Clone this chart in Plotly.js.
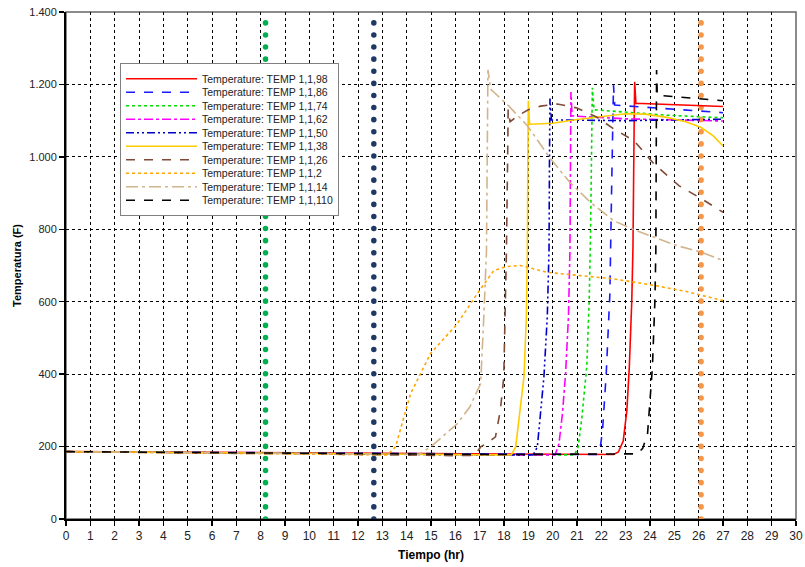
<!DOCTYPE html>
<html>
<head>
<meta charset="utf-8">
<script src="https://cdn.plot.ly/plotly-3.0.1.min.js"></script>
<style>html,body{margin:0;padding:0;background:#fff;}#chart{width:805px;height:567px;}</style>
</head>
<body>
<div id="chart"></div>
<script>
// ---- data ----
const names = ["Temperature: TEMP 1,1,98","Temperature: TEMP 1,1,86","Temperature: TEMP 1,1,74","Temperature: TEMP 1,1,62","Temperature: TEMP 1,1,50","Temperature: TEMP 1,1,38","Temperature: TEMP 1,1,26","Temperature: TEMP 1,1,2","Temperature: TEMP 1,1,14","Temperature: TEMP 1,1,110"];

const t98 = [0,6,12,18,22.5,22.7,22.9,23.05,23.15,23.25,23.3,23.35,23.37,23.42,25,27];
const v98 = [186,184,180,178,178,185,215,300,420,600,750,1100,1207,1148,1144,1139];

const t86 = [0,6,12,18,21.8,21.95,22.05,22.2,22.35,22.42,22.47,22.5,22.55,25,27];
const v86 = [186,184,180,178,178,195,245,400,620,900,1150,1198,1143,1132,1122];

const t74 = [0,6,12,18,20.9,21.05,21.2,21.4,21.5,21.56,21.6,21.63,21.7,23.3,24.7,27];
const v74 = [186,184,180,177,177,200,280,420,600,800,1100,1191,1130,1122,1115,1108];

const t62 = [0,6,12,18,20.1,20.26,20.4,20.53,20.65,20.71,20.73,20.75,20.8,23,27];
const v62 = [186,184,180,177,177,208,290,401,560,741,1000,1179,1113,1105,1099];

const t50 = [0,6,12,17,19.2,19.37,19.5,19.64,19.78,19.85,19.87,19.89,19.95,23,27];
const v50 = [186,184,180,177,177,199,290,392,560,741,1000,1161,1102,1100,1104];

const t38 = [0,6,12,17,18.3,18.48,18.65,18.82,18.92,18.96,18.98,19.0,19.05,20,21,22,23,23.8,24.7,25.5,26.1,26.6,27];
const v38 = [186,184,180,177,177,199,290,392,560,741,1000,1155,1090,1093,1103,1112,1119,1118,1109,1096,1081,1058,1030];

const t26 = [0,6,12,16,16.8,17.04,17.35,17.65,17.85,17.99,18.05,18.1,18.15,18.17,18.25,18.6,19,19.5,20.19,21,21.8,22.52,23.35,24.17,25.2,26.1,27];
const v26 = [186,183,178,175,176,199,212,227,300,392,550,741,1000,1131,1097,1115,1130,1140,1146,1135,1110,1077,1044,980,920,885,847];

const t2 = [0,6,12,13.2,13.54,14.16,14.98,16.08,16.9,17.58,18.1,18.68,19.78,21.15,22.52,24.17,25.5,27];
const v2 = [186,183,178,177,199,346,457,539,622,686,697,700,681,672,663,645,628,603];

const t14 = [0,6,12,14.5,14.98,15.5,16.08,16.6,17.04,17.17,17.28,17.34,17.45,18.2,18.96,19.92,20.7,21.56,22.5,23.3,24.17,25.1,26.09,27];
const v14 = [186,183,178,178,199,228,263,310,374,557,741,1240,1187,1140,1086,994,930,874,824,800,778,755,737,714];

const t110 = [0,6,12,18,23.48,23.7,23.9,24.1,24.2,24.24,24.27,24.3,24.35,26,27];
const v110 = [186,184,180,178,180,195,236,420,600,741,1240,1170,1170,1160,1155];

const refTimes = [8.2, 12.65, 26.1];
const yMin = 0, yMax = 1400;
const xTickVals = Array.from({length:31},(_,i)=>i);

// ---- styles ----
const seriesT = [t98,t86,t74,t62,t50,t38,t26,t2,t14,t110];
const seriesV = [v98,v86,v74,v62,v50,v38,v26,v2,v14,v110];
const colors = ["#FF0000","#1A1AFF","#00DD00","#FF00FF","#0000C8","#FFCC00","#7F4B36","#FFA500","#D2B48C","#000000"];
const dashes = ["solid","dash","dot","dashdot","8px,3px,2px,3px,2px,3px","solid","dash","dot","12px,4px,3px,4px","dash"];
const refColors = ["#00B050","#1F3864","#F79646"];

const traces = [];
refTimes.forEach((rt,i)=>{
  traces.push({x:[rt,rt], y:[yMin,yMax], mode:"lines", showlegend:false, hoverinfo:"skip",
    line:{color:refColors[i], width:5, dash:"5px,7px"}});
});
seriesT.forEach((t,i)=>{
  traces.push({x:t, y:seriesV[i], name:names[i], mode:"lines",
    line:{color:colors[i], width:1.6, dash:dashes[i]}});
});

const layout = {
  width:805, height:567,
  margin:{l:66, r:9, t:12, b:48},
  paper_bgcolor:"#fff", plot_bgcolor:"#fff",
  separators:",.",
  showlegend:true,
  legend:{x:0.074, y:0.899, xanchor:"left", yanchor:"top",
    bgcolor:"#fff", bordercolor:"#808080", borderwidth:1,
    font:{family:"Liberation Sans, Arial, sans-serif", size:10.5, color:"#222"},
    tracegroupgap:0, itemwidth:71},
  xaxis:{range:[0,30], tickvals:xTickVals, ticks:"outside", ticklen:5, tickcolor:"#000", tickwidth:1.5,
    showline:true, linecolor:"#000", linewidth:2,
    showgrid:true, gridcolor:"#000", griddash:"3px,3px", gridwidth:1, zeroline:false,
    tickfont:{family:"Liberation Sans Narrow, Arial Narrow, sans-serif", size:12, color:"#222"},
    title:{text:"<b>Tiempo (hr)</b>", font:{family:"Liberation Sans Narrow, Arial, sans-serif", size:12, color:"#000"}, standoff:8}},
  yaxis:{range:[yMin,yMax], dtick:200, tickformat:",d", ticks:"outside", ticklen:5, tickcolor:"#000", tickwidth:1.5,
    showline:true, linecolor:"#000", linewidth:2,
    showgrid:true, gridcolor:"#000", griddash:"3px,3px", gridwidth:1, zeroline:false,
    tickfont:{family:"Liberation Sans, Arial, sans-serif", size:11, color:"#222"},
    title:{text:"<b>Temperatura (F)</b>", font:{family:"Liberation Sans, Arial, sans-serif", size:11, color:"#000"}, standoff:5}},
  shapes:[{type:"rect", xref:"paper", yref:"paper", x0:0, x1:1, y0:0, y1:1, line:{color:"#666", width:1.5}, layer:"below"}]
};

Plotly.newPlot("chart", traces, layout, {staticPlot:true, displayModeBar:false}).then(()=>{
  // round dots for the reference lines
  document.querySelectorAll(".scatterlayer .trace").forEach((tr,i)=>{
    if(i<3){ tr.querySelectorAll("path.js-line").forEach(p=>{
      p.style.strokeLinecap="round"; p.style.strokeDasharray="0.1px,12px"; p.style.strokeWidth="5.5px";
    }); }
  });
  // compact legend row spacing
  const leg = document.querySelector(".legend");
  if(leg){
    const items = Array.from(leg.querySelectorAll("g.traces"));
    const parse = el => { const m=/translate\(([-\d.]+)[ ,]+([-\d.]+)\)/.exec(el.getAttribute("transform")||""); return m?[+m[1],+m[2]]:[0,0]; };
    if(items.length>1){
      const p0 = parse(items[0]), p1 = parse(items[1]);
      const orig = p1[1]-p0[1], step = 13.5;
      items.forEach((it,i)=>{ const p=parse(it); it.setAttribute("transform",`translate(${p[0]},${p0[1]+i*step})`); });
      const bg = leg.querySelector("rect.bg");
      if(bg){ const h=+bg.getAttribute("height"); bg.setAttribute("height", h-(orig-step)*(items.length-1)); }
    }
  }
});
</script>
</body>
</html>
